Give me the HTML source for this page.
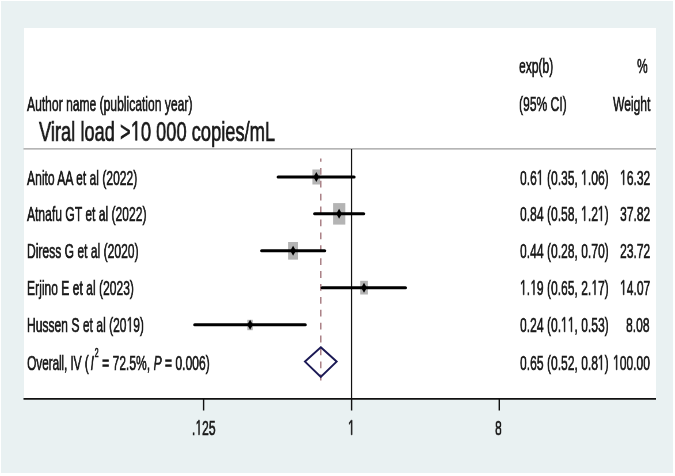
<!DOCTYPE html>
<html><head><meta charset="utf-8">
<style>
html,body{margin:0;padding:0;background:#fff;width:675px;height:476px;overflow:hidden}
#bg{position:absolute;left:1px;top:1px;width:672px;height:472px;background:#e9f1f2}
#plot{position:absolute;left:23.5px;top:28.3px;width:632.5px;height:370px;background:#fff}
.t{position:absolute;font-family:"Liberation Sans",sans-serif;font-size:21px;line-height:20px;white-space:pre;color:#1a1a1a;transform-origin:0 0;transform:scaleX(0.576);will-change:transform;-webkit-text-stroke:0.7px #1a1a1a}
.tk{font-size:21px;transform:scaleX(0.576)}
.ttl{font-size:27.5px;line-height:27.5px;transform:scaleX(0.665)}
svg.one{display:inline;vertical-align:baseline}
svg.main{position:absolute;left:0;top:0}
.sup{position:relative;top:-13px;font-size:12.5px;margin:0 0 0 1.5px}
</style></head><body>
<div id="bg"></div><div id="plot"></div>
<svg class="main" width="675" height="476" viewBox="0 0 675 476">
  <line x1="23.5" y1="148.8" x2="656" y2="148.8" stroke="#9c9c9c" stroke-width="1.3"/>
  <line x1="351.55" y1="149" x2="351.55" y2="398" stroke="#111" stroke-width="1.2"/>
  <line x1="320.8" y1="158.4" x2="320.8" y2="380.5" stroke="#9e6e74" stroke-width="1.3" stroke-dasharray="6.8 6.1" stroke-dashoffset="3.4"/>
  <g fill="#b4b4b4">
  <rect x="312.4" y="169.5" width="7.7" height="15"/>
  <rect x="333.1" y="203.1" width="12.2" height="21.5"/>
  <rect x="288.1" y="242" width="9.9" height="17.6"/>
  <rect x="360.2" y="280.8" width="7.7" height="13.7"/>
  <rect x="247.3" y="319.8" width="5.5" height="10.4"/>
  </g>
  <g stroke="#000" stroke-width="3" stroke-linecap="round">
    <line x1="278.1" y1="177" x2="354.1" y2="177"/>
    <line x1="314.6" y1="213.7" x2="363.7" y2="213.7"/>
    <line x1="261.6" y1="250.8" x2="324.7" y2="250.8"/>
    <line x1="322.1" y1="287.8" x2="405.5" y2="287.8"/>
    <line x1="194.7" y1="324.8" x2="305.3" y2="324.8"/>
  </g>
  <g fill="#000">
    <path d="M316.3 172.0 L319.1 177 L316.3 182.0 L313.5 177Z"/>
    <path d="M339.1 208.7 L341.9 213.7 L339.1 218.7 L336.3 213.7Z"/>
    <path d="M293.1 245.8 L295.9 250.8 L293.1 255.8 L290.3 250.8Z"/>
    <path d="M364.0 282.8 L366.8 287.8 L364.0 292.8 L361.2 287.8Z"/>
    <path d="M250.1 319.8 L252.9 324.8 L250.1 329.8 L247.3 324.8Z"/>
  </g>
  <path d="M320.8 347.3 L336.6 361.6 L320.8 376.9 L305 361.6Z" fill="none" stroke="#1b1955" stroke-width="2"/>
  <line x1="23.5" y1="398.9" x2="656" y2="398.9" stroke="#111" stroke-width="1.6"/>
  <g stroke="#111" stroke-width="1.4">
    <line x1="203.6" y1="398" x2="203.6" y2="410.5"/>
    <line x1="351.6" y1="398" x2="351.6" y2="410.5"/>
    <line x1="499.3" y1="398" x2="499.3" y2="410.5"/>
  </g>
</svg>
<div class="t" style="left:518.8px;top:56px">exp(b)</div>
<div class="t" style="left:637px;top:56px">%</div>
<div class="t" style="left:27.3px;top:93.5px">Author name (publication year)</div>
<div class="t" style="left:519.3px;top:93.5px">(95% CI)</div>
<div class="t" style="left:612.7px;top:93.5px">Weight</div>
<div class="t ttl" style="left:38.9px;top:117.5px">Viral load &gt;<svg class="one" width="15.294" height="19.685" viewBox="0 0 1139 1466" style="overflow:visible"><path d="M515 1436 L515 199 L197 426 L197 256 L530 27 L696 27 L696 1436 Z" fill="currentColor" stroke="currentColor" stroke-width="52.1" stroke-linejoin="miter"/></svg>0 000 copies/mL</div>
<div class="t" style="left:27.3px;top:167.5px">Anito AA et al (2022)</div>
<div class="t" style="left:519.5px;top:167.5px">0.6<svg class="one" width="11.679" height="15.032" viewBox="0 0 1139 1466" style="overflow:visible"><path d="M515 1436 L515 199 L197 426 L197 256 L530 27 L696 27 L696 1436 Z" fill="currentColor" stroke="currentColor" stroke-width="68.3" stroke-linejoin="miter"/></svg> (0.35, <svg class="one" width="11.679" height="15.032" viewBox="0 0 1139 1466" style="overflow:visible"><path d="M515 1436 L515 199 L197 426 L197 256 L530 27 L696 27 L696 1436 Z" fill="currentColor" stroke="currentColor" stroke-width="68.3" stroke-linejoin="miter"/></svg>.06)</div>
<div class="t" style="left:620.4px;top:167.5px"><svg class="one" width="11.679" height="15.032" viewBox="0 0 1139 1466" style="overflow:visible"><path d="M515 1436 L515 199 L197 426 L197 256 L530 27 L696 27 L696 1436 Z" fill="currentColor" stroke="currentColor" stroke-width="68.3" stroke-linejoin="miter"/></svg>6.32</div>
<div class="t" style="left:27.3px;top:204.4px">Atnafu GT et al (2022)</div>
<div class="t" style="left:519.5px;top:204.4px">0.84 (0.58, <svg class="one" width="11.679" height="15.032" viewBox="0 0 1139 1466" style="overflow:visible"><path d="M515 1436 L515 199 L197 426 L197 256 L530 27 L696 27 L696 1436 Z" fill="currentColor" stroke="currentColor" stroke-width="68.3" stroke-linejoin="miter"/></svg>.2<svg class="one" width="11.679" height="15.032" viewBox="0 0 1139 1466" style="overflow:visible"><path d="M515 1436 L515 199 L197 426 L197 256 L530 27 L696 27 L696 1436 Z" fill="currentColor" stroke="currentColor" stroke-width="68.3" stroke-linejoin="miter"/></svg>)</div>
<div class="t" style="left:620.4px;top:204.4px">37.82</div>
<div class="t" style="left:27.3px;top:241.3px">Diress G et al (2020)</div>
<div class="t" style="left:519.5px;top:241.3px">0.44 (0.28, 0.70)</div>
<div class="t" style="left:620.4px;top:241.3px">23.72</div>
<div class="t" style="left:27.3px;top:278.2px">Erjino E et al (2023)</div>
<div class="t" style="left:519.5px;top:278.2px"><svg class="one" width="11.679" height="15.032" viewBox="0 0 1139 1466" style="overflow:visible"><path d="M515 1436 L515 199 L197 426 L197 256 L530 27 L696 27 L696 1436 Z" fill="currentColor" stroke="currentColor" stroke-width="68.3" stroke-linejoin="miter"/></svg>.<svg class="one" width="11.679" height="15.032" viewBox="0 0 1139 1466" style="overflow:visible"><path d="M515 1436 L515 199 L197 426 L197 256 L530 27 L696 27 L696 1436 Z" fill="currentColor" stroke="currentColor" stroke-width="68.3" stroke-linejoin="miter"/></svg>9 (0.65, 2.<svg class="one" width="11.679" height="15.032" viewBox="0 0 1139 1466" style="overflow:visible"><path d="M515 1436 L515 199 L197 426 L197 256 L530 27 L696 27 L696 1436 Z" fill="currentColor" stroke="currentColor" stroke-width="68.3" stroke-linejoin="miter"/></svg>7)</div>
<div class="t" style="left:620.4px;top:278.2px"><svg class="one" width="11.679" height="15.032" viewBox="0 0 1139 1466" style="overflow:visible"><path d="M515 1436 L515 199 L197 426 L197 256 L530 27 L696 27 L696 1436 Z" fill="currentColor" stroke="currentColor" stroke-width="68.3" stroke-linejoin="miter"/></svg>4.07</div>
<div class="t" style="left:27.3px;top:315.1px">Hussen S et al (20<svg class="one" width="11.679" height="15.032" viewBox="0 0 1139 1466" style="overflow:visible"><path d="M515 1436 L515 199 L197 426 L197 256 L530 27 L696 27 L696 1436 Z" fill="currentColor" stroke="currentColor" stroke-width="68.3" stroke-linejoin="miter"/></svg>9)</div>
<div class="t" style="left:519.5px;top:315.1px">0.24 (0.<svg class="one" width="11.679" height="15.032" viewBox="0 0 1139 1466" style="overflow:visible"><path d="M515 1436 L515 199 L197 426 L197 256 L530 27 L696 27 L696 1436 Z" fill="currentColor" stroke="currentColor" stroke-width="68.3" stroke-linejoin="miter"/></svg><svg class="one" width="11.679" height="15.032" viewBox="0 0 1139 1466" style="overflow:visible"><path d="M515 1436 L515 199 L197 426 L197 256 L530 27 L696 27 L696 1436 Z" fill="currentColor" stroke="currentColor" stroke-width="68.3" stroke-linejoin="miter"/></svg>, 0.53)</div>
<div class="t" style="left:626px;top:315.1px">8.08</div>
<div class="t" style="left:27.3px;top:353px"><span style="letter-spacing:-0.33px">Overall, IV</span> (<i style="margin-left:3px">I</i><span class="sup">2</span> = 72.5%, <i>P</i> = 0.006)</div>
<div class="t" style="left:519.5px;top:353px">0.65 (0.52, 0.8<svg class="one" width="11.679" height="15.032" viewBox="0 0 1139 1466" style="overflow:visible"><path d="M515 1436 L515 199 L197 426 L197 256 L530 27 L696 27 L696 1436 Z" fill="currentColor" stroke="currentColor" stroke-width="68.3" stroke-linejoin="miter"/></svg>)</div>
<div class="t" style="left:613px;top:353px"><svg class="one" width="11.679" height="15.032" viewBox="0 0 1139 1466" style="overflow:visible"><path d="M515 1436 L515 199 L197 426 L197 256 L530 27 L696 27 L696 1436 Z" fill="currentColor" stroke="currentColor" stroke-width="68.3" stroke-linejoin="miter"/></svg>00.00</div>
<div class="t tk" style="left:191.8px;top:418.3px">.<svg class="one" width="11.679" height="15.032" viewBox="0 0 1139 1466" style="overflow:visible"><path d="M515 1436 L515 199 L197 426 L197 256 L530 27 L696 27 L696 1436 Z" fill="currentColor" stroke="currentColor" stroke-width="68.3" stroke-linejoin="miter"/></svg>25</div>
<div class="t tk" style="left:347.6px;top:418.3px"><svg class="one" width="11.679" height="15.032" viewBox="0 0 1139 1466" style="overflow:visible"><path d="M515 1436 L515 199 L197 426 L197 256 L530 27 L696 27 L696 1436 Z" fill="currentColor" stroke="currentColor" stroke-width="68.3" stroke-linejoin="miter"/></svg></div>
<div class="t tk" style="left:495.3px;top:418.3px">8</div>
</body></html>
